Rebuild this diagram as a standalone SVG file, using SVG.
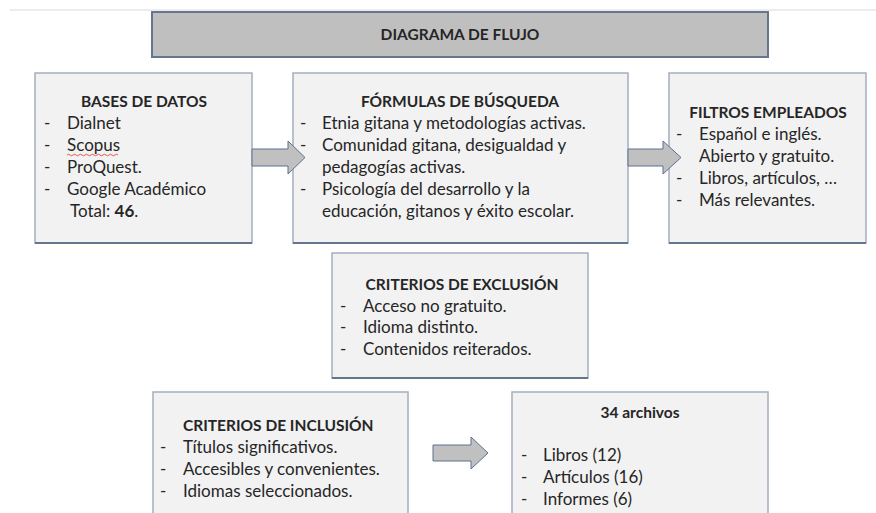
<svg xmlns="http://www.w3.org/2000/svg" width="876" height="513" viewBox="0 0 876 513">
<style>
.box{fill:#f2f2f2;stroke:#a3aebf;stroke-width:1.5}
.sh{stroke:#4a5c7c;stroke-width:1.5}
.t{font-family:Lato,"Liberation Sans",sans-serif;font-size:17px;fill:#262626}
.b{font-weight:bold;font-size:15.5px}
.m{text-anchor:middle}
.arrow{fill:#c0c0c0;stroke:#5e7190;stroke-width:1}
</style>
<rect width="876" height="513" fill="#fff"/>
<line x1="10" y1="10" x2="876" y2="10" stroke="#e6e6e6" stroke-width="1.5"/>
<g id="title">
<rect x="152" y="12" width="616" height="45" fill="#bfbfbf" stroke="#67768f" stroke-width="2"/>
<text class="t b m" x="460" y="40">DIAGRAMA DE FLUJO</text>
</g>
<g id="bases">
<rect class="box" x="35" y="73" width="217" height="170"/>
<line class="sh" x1="35" y1="243" x2="252" y2="243"/>
<text class="t b m" x="144" y="107">BASES DE DATOS</text>
<text class="t" x="44" y="129">-</text><text class="t" x="67" y="129">Dialnet</text>
<text class="t" x="44" y="151">-</text><text class="t" x="67" y="151">Scopus</text>
<path d="M67,155 q1.5,-1.5 3,0 t3,0 t3,0 t3,0 t3,0 t3,0 t3,0 t3,0 t3,0 t3,0 t3,0 t3,0 t3,0 t3,0 t3,0 t3,0 t3,0" fill="none" stroke="#e03030" stroke-width="0.8"/>
<text class="t" x="44" y="173">-</text><text class="t" x="67" y="173">ProQuest.</text>
<text class="t" x="44" y="195">-</text><text class="t" x="67" y="195">Google Académico</text>
<text class="t" x="70" y="217">Total: <tspan font-weight="bold">46</tspan>.</text>
</g>
<g id="formulas">
<rect class="box" x="293" y="73" width="335" height="170"/>
<line class="sh" x1="293" y1="243" x2="628" y2="243"/>
<text class="t b m" x="460" y="107">FÓRMULAS DE BÚSQUEDA</text>
<text class="t" x="300" y="129">-</text><text class="t" x="322" y="129">Etnia gitana y metodologías activas.</text>
<text class="t" x="300" y="151">-</text><text class="t" x="322" y="151">Comunidad gitana, desigualdad y</text>
<text class="t" x="322" y="173">pedagogías activas.</text>
<text class="t" x="300" y="195">-</text><text class="t" x="322" y="195">Psicología del desarrollo y la</text>
<text class="t" x="322" y="217">educación, gitanos y éxito escolar.</text>
</g>
<g id="filtros">
<rect class="box" x="669" y="73" width="197" height="170"/>
<line class="sh" x1="669" y1="243" x2="866" y2="243"/>
<text class="t b m" x="768" y="118">FILTROS EMPLEADOS</text>
<text class="t" x="676" y="140">-</text><text class="t" x="699" y="140">Español e inglés.</text>
<text class="t" x="699" y="162">Abierto y gratuito.</text>
<text class="t" x="676" y="184">-</text><text class="t" x="699" y="184">Libros, artículos, …</text>
<text class="t" x="676" y="206">-</text><text class="t" x="699" y="206">Más relevantes.</text>
</g>
<g id="exclusion">
<rect class="box" x="332" y="253" width="256" height="125"/>
<line class="sh" x1="332" y1="378" x2="588" y2="378"/>
<text class="t b m" x="462" y="290">CRITERIOS DE EXCLUSIÓN</text>
<text class="t" x="340" y="312">-</text><text class="t" x="363" y="312">Acceso no gratuito.</text>
<text class="t" x="340" y="333">-</text><text class="t" x="363" y="333">Idioma distinto.</text>
<text class="t" x="340" y="355">-</text><text class="t" x="363" y="355">Contenidos reiterados.</text>
</g>
<g id="inclusion">
<rect class="box" x="153" y="392" width="255" height="130"/>
<text class="t b" x="183" y="431">CRITERIOS DE INCLUSIÓN</text>
<text class="t" x="160" y="453">-</text><text class="t" x="183" y="453">Títulos significativos.</text>
<text class="t" x="160" y="475">-</text><text class="t" x="183" y="475">Accesibles y convenientes.</text>
<text class="t" x="160" y="497">-</text><text class="t" x="183" y="497">Idiomas seleccionados.</text>
</g>
<g id="archivos">
<rect class="box" x="512" y="392" width="256" height="130"/>
<text class="t b m" x="640" y="418">34 archivos</text>
<text class="t" x="521" y="461">-</text><text class="t" x="543" y="461">Libros (12)</text>
<text class="t" x="521" y="483">-</text><text class="t" x="543" y="483">Artículos (16)</text>
<text class="t" x="521" y="505">-</text><text class="t" x="543" y="505">Informes (6)</text>
</g>
<g id="connectors">
<path class="arrow" d="M252,149 H288 V141 L305,157.5 L288,174 V166 H252 Z"/>
<path class="arrow" d="M628,149 H663 V141 L681,157.5 L663,174 V166 H628 Z"/>
<path class="arrow" d="M433,445 H471 V437 L488,453 L471,469 V461 H433 Z"/>
</g>
</svg>
